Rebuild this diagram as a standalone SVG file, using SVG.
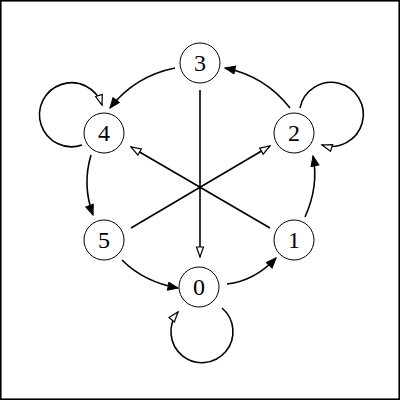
<svg xmlns="http://www.w3.org/2000/svg" width="400" height="400" viewBox="0 0 400 400">
<style>
.node circle{fill:#fff;stroke:#000;stroke-width:1}
.node text{font-family:"Liberation Serif","DejaVu Serif",serif;font-size:24px;text-anchor:middle;fill:#000}
.e{fill:none;stroke:#000;stroke-width:1.6}
.f{marker-end:url(#af)}
.o{marker-end:url(#ao)}
</style>
<defs>
<marker id="af" markerUnits="userSpaceOnUse" markerWidth="14" markerHeight="10" refX="11" refY="4.5" orient="auto" viewBox="0 0 14 10">
<path d="M1,0.5 L11,4.5 L1,8.5 z" fill="#000" stroke="#000" stroke-width="1"/>
</marker>
<marker id="ao" markerUnits="userSpaceOnUse" markerWidth="14" markerHeight="10" refX="11" refY="4.5" orient="auto" viewBox="0 0 14 10">
<path d="M1,1 L11,4.5 L1,8 z" fill="#fff" stroke="#000" stroke-width="1.2"/>
</marker>
</defs>
<rect x="0.8" y="0.8" width="398.4" height="398.4" fill="#fff" stroke="#000" stroke-width="1.6"/>
<g id="edges">
<path class="e o" d="M200,90 L200,257"/>
<path class="e o" d="M270,228 L131,147"/>
<path class="e o" d="M131,228 L270,146"/>
<path class="e f" d="M175,68 Q135,76 110,108"/>
<path class="e f" d="M290,108 Q265,76 225,68"/>
<path class="e f" d="M91,155 Q82,185 93,215"/>
<path class="e f" d="M305,217 Q319,186 313,156"/>
<path class="e f" d="M122,260 Q144,282 178,288"/>
<path class="e f" d="M227,284 Q254.5,281 276,258"/>
<path class="e o" d="M82,145 A32,32 0 1 1 102,105"/>
<path class="e o" d="M300,108 A32,32 0 1 1 322,145"/>
<path class="e o" d="M222,308 A31,31 0 1 1 178,312"/>
</g>
<g id="n3" class="node"><circle cx="200" cy="63" r="20"/><text x="200" y="71">3</text></g>
<g id="n2" class="node"><circle cx="294" cy="133" r="20"/><text x="294" y="141">2</text></g>
<g id="n4" class="node"><circle cx="104" cy="133" r="20"/><text x="104" y="141">4</text></g>
<g id="n5" class="node"><circle cx="104" cy="240" r="20"/><text x="104" y="248">5</text></g>
<g id="n1" class="node"><circle cx="294" cy="240" r="20"/><text x="294" y="248">1</text></g>
<g id="n0" class="node"><circle cx="199" cy="287" r="20"/><text x="199" y="295">0</text></g>
</svg>
